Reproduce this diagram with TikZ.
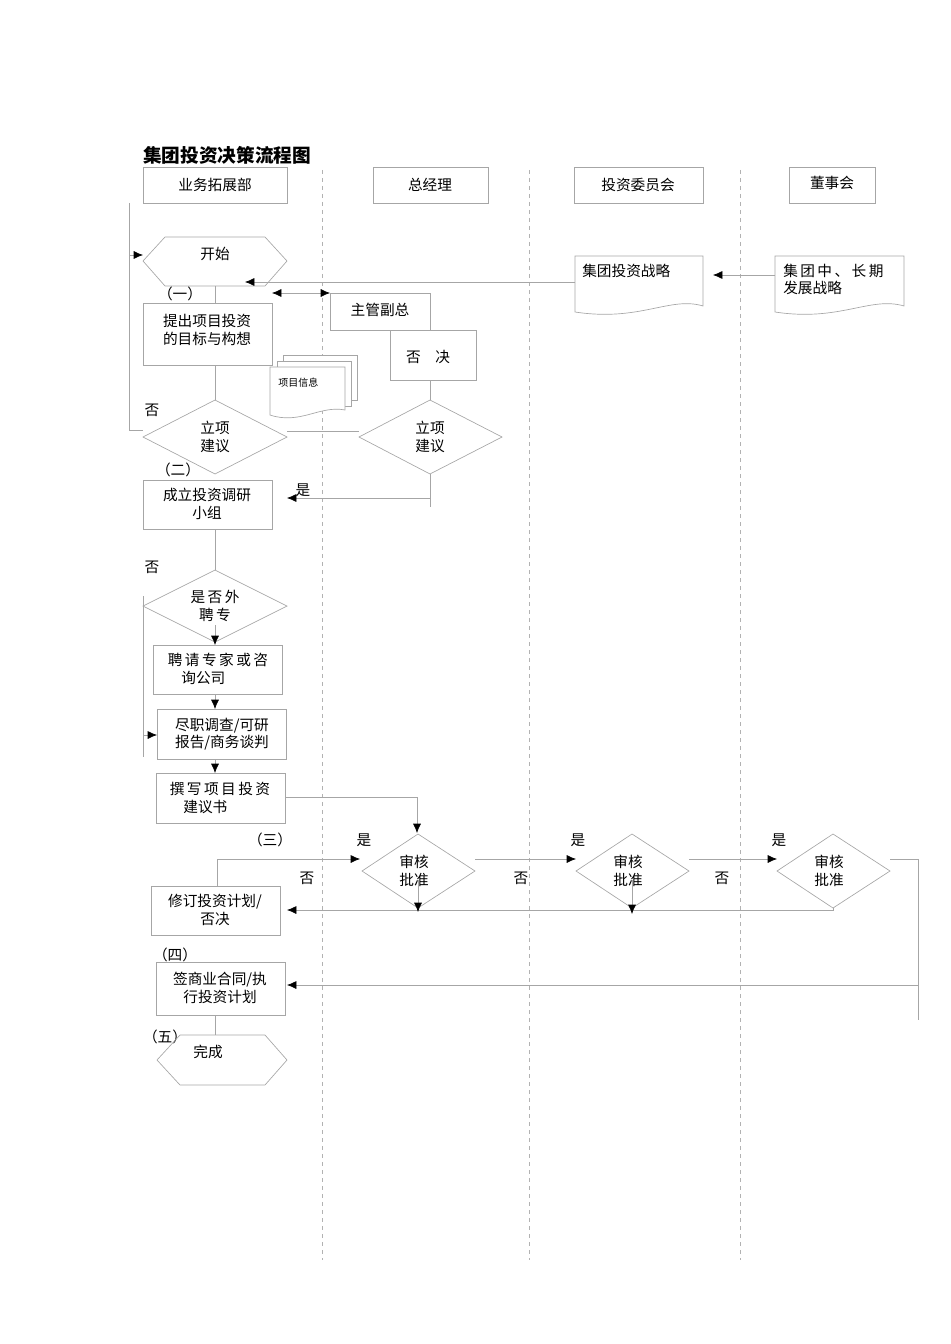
\documentclass[tikz,border=0pt]{standalone}
\usepackage{fontspec}
\setmainfont{Noto Sans CJK SC}
\usetikzlibrary{arrows.meta}
\begin{document}
\begin{tikzpicture}[x=0.75pt,y=-0.75pt,
  ln/.style={draw=gray!70,line width=0.5pt},
  arr/.style={ln,-{Latex[length=7pt,width=6pt,black]}},
  bx/.style={draw=gray!70,line width=0.5pt},
  t/.style={font=\fontsize{11pt}{13pt}\selectfont,align=center,inner sep=0pt},
  lane/.style={draw=gray!60,dashed,line width=0.4pt}]
\useasboundingbox (0,0) rectangle (950,1344);
\node[anchor=west,font=\bfseries\fontsize{14pt}{16pt}\selectfont,inner sep=0pt] (title) at (143,155) {集团投资决策流程图};
% headers
\draw[bx] (143,167) rectangle (287,203); \node[t] (h1) at (215,185) {业务拓展部};
\draw[bx] (373,167) rectangle (488,203); \node[t] (h2) at (430,185) {总经理};
\draw[bx] (574,167) rectangle (703,203); \node[t] (h3) at (638,185) {投资委员会};
\draw[bx] (789,167) rectangle (875,203); \node[t] (h4) at (832,183) {董事会};
% lanes
\draw[lane] (322,170) -- (322,1260);
\draw[lane] (529,170) -- (529,1260);
\draw[lane] (740,170) -- (740,1260);
% start
\draw[bx] (143,261) -- (165,237) -- (265,237) -- (287,261) -- (265,286) -- (165,286) -- cycle;
\node[t] (start) at (215,254) {开始};
\coordinate (lt) at (129,203); \coordinate (lb) at (129,430);
\draw[ln] (lt) -- (lb) -- (143,430);
\draw[arr] (129,255) -- (143,255);
% strategy docs
\draw[bx] (575,256) -- (703,256) -- (703,306) .. controls (670,296) and (640,322) .. (575,312) -- cycle;
\node[t,anchor=north west] (s1) at (582,264) {集团投资战略};
\draw[bx] (775,256) -- (904,256) -- (904,306) .. controls (870,296) and (840,322) .. (775,312) -- cycle;
\node[t,anchor=north west,align=left] (s2) at (783,264) {集\,团\,中\,、\,长\,期\\发展战略};
\draw[arr] (775,275) -- (713,275);
\draw[arr] (575,282) -- (245,282);
% (一)
\node[t] (n1) at (180,294) {（一）};
\draw[ln] (215,286) -- (215,303);
\draw[bx] (143,303) rectangle (272,365);
\node[t] (b1) at (207,330) {提出项目投资\\的目标与构想};
\draw[ln,{Latex[length=7pt,width=6pt,black]}-{Latex[length=7pt,width=6pt,black]}] (272,293) -- (330,293);
\draw[bx] (330,293) rectangle (430,330); \node[t] (vp) at (380,310) {主管副总};
\draw[bx] (390,330) rectangle (476,380); \node[t] (rej) at (428,357) {否\quad 决};
% multi doc
\draw[bx,fill=white] (283,355) -- (357,355) -- (357,400) -- (283,400) -- cycle;
\draw[bx,fill=white] (277,361) -- (351,361) -- (351,406) -- (277,406) -- cycle;
\draw[bx,fill=white] (270,367) -- (345,367) -- (345,410) .. controls (320,405) and (300,425) .. (270,415) -- cycle;
\node[font=\fontsize{7.5pt}{9pt}\selectfont,inner sep=0pt,anchor=west] (info) at (278,383) {项目信息};
% diamonds
\draw[ln] (215,365) -- (215,400);
\draw[bx] (143,437) -- (215,400) -- (287,437) -- (215,474) -- cycle;
\node[t] (d1) at (215,437) {立项\\建议};
\node[t] (no1) at (152,410) {否};
\draw[ln] (287,431) -- (359,431);
\draw[ln] (430,380) -- (430,400);
\draw[bx] (359,437) -- (430,400) -- (502,437) -- (430,474) -- cycle;
\node[t] (d2) at (430,437) {立项\\建议};
\draw[ln] (430,474) -- (430,507);
\draw[arr] (430,498) -- (287,498);
\node[t] (yes1) at (303,490) {是};
% (二)
\node[t] (n2) at (178,470) {（二）};
\draw[bx] (143,480) rectangle (272,529);
\node[t] (b2) at (207,504) {成立投资调研\\小组};
\draw[ln] (215,529) -- (215,570);
\node[t] (no2) at (152,567) {否};
\draw[bx] (143,606) -- (215,570) -- (287,606) -- (215,642) -- cycle;
\node[t] (d3) at (215,606) {是\,否\,外\\聘\,专};
\draw[ln] (143,596) -- (143,757);
\draw[arr] (143,735) -- (157,735);
\draw[arr] (215,625) -- (215,645);
\draw[bx] (153,645) rectangle (282,694);
\node[t] (b3) at (218,669) {聘\,请\,专\,家\,或\,咨\\询公司\phantom{专家}};
\draw[arr] (215,694) -- (215,709);
\draw[bx] (157,709) rectangle (286,759);
\node[t] (b4) at (222,734) {尽职调查/可研\\报告/商务谈判};
\draw[arr] (215,759) -- (215,773);
\draw[bx] (156,773) rectangle (285,823);
\node[t] (b5) at (220,798) {撰\,写\,项\,目\,投\,资\\建议书\phantom{项目}};
\draw[arr] (285,797) -- (417,797) -- (417,833);
% (三)
\node[t] (n3) at (270,840) {（三）};
\foreach \cx/\nm in {418/a,632/b,833/c}{
  \draw[bx] (\cx-56,871) -- (\cx,834) -- (\cx+57,871) -- (\cx,908) -- cycle;
  \node[t] (rv\nm) at (\cx-4,871) {审核\\批准};
  \node[t] at (\cx-54,840) {是};
  \node[t] at (\cx-111,878) {否};
}
\draw[arr] (475,859) -- (576,859);
\draw[arr] (689,859) -- (777,859);
\draw[ln] (890,859) -- (918,859) -- (918,1020);
\draw[bx] (151,886) rectangle (280,935);
\node[t] (b6) at (215,910) {修订投资计划/\\否决};
\draw[arr] (217,886) -- (217,859) -- (360,859);
\draw[arr] (833,908) -- (833,910) -- (287,910);
\draw[arr] (418,880) -- (418,912);
\draw[arr] (632,880) -- (632,914);
% (四)
\node[t] (n4) at (175,955) {（四）};
\draw[bx] (156,962) rectangle (285,1015);
\node[t] (b7) at (220,988) {签商业合同/执\\行投资计划};
\draw[arr] (918,985) -- (287,985);
% (五)
\node[t] (n5) at (165,1037) {（五）};
\draw[ln] (215,1015) -- (215,1035);
\draw[bx] (157,1060) -- (180,1035) -- (265,1035) -- (287,1060) -- (265,1085) -- (180,1085) -- cycle;
\node[t] (end) at (208,1052) {完成};
\end{tikzpicture}
\end{document}
